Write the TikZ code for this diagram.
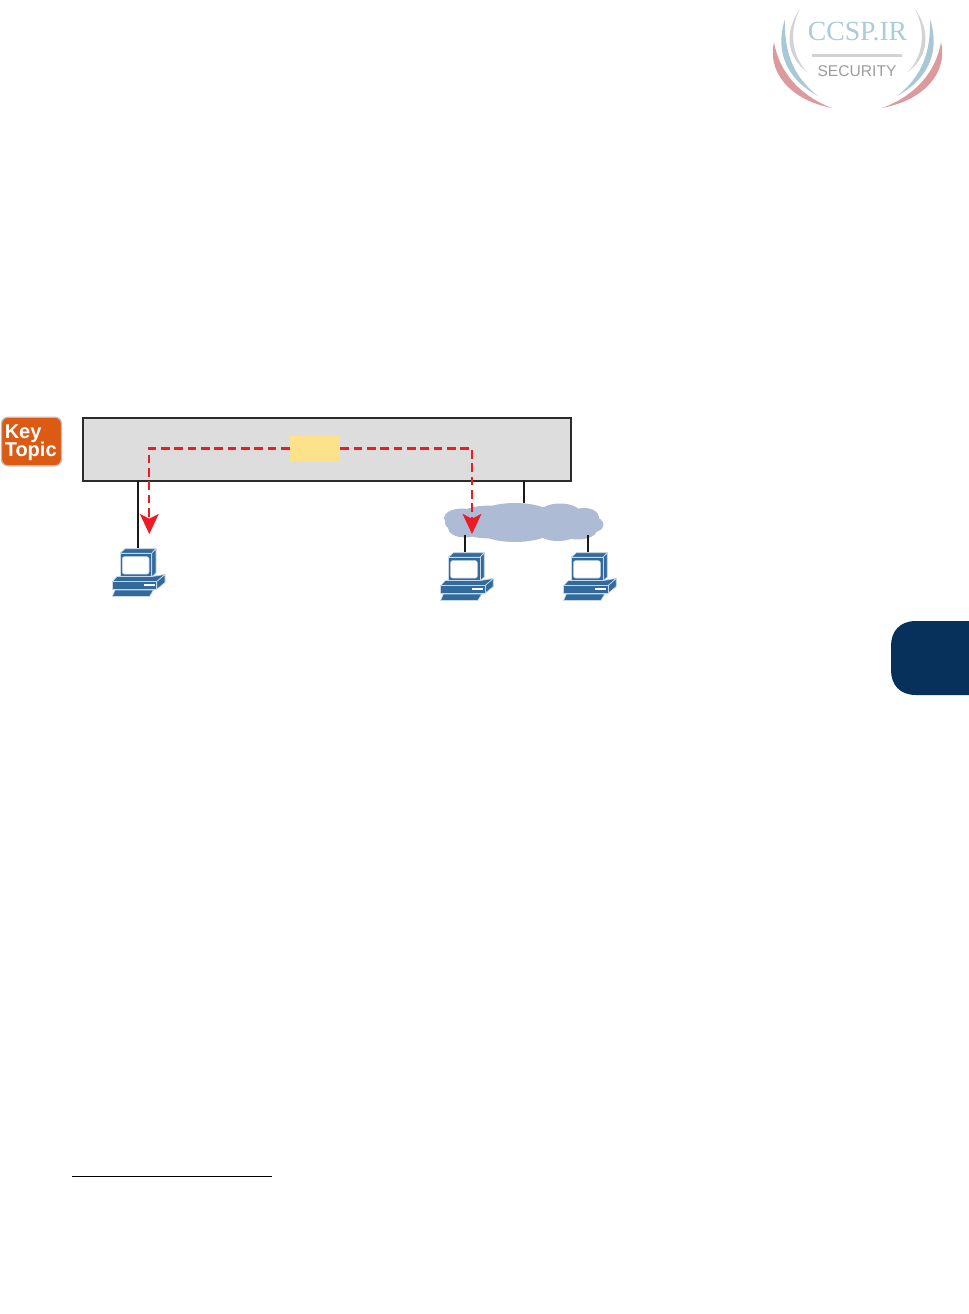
\documentclass[tikz,border=0pt]{standalone}
\usepackage{fontspec}
\setmainfont{Liberation Sans}
\newfontfamily\logoserif{Liberation Serif}
\usetikzlibrary{arrows.meta,calc}
\definecolor{pcblue}{HTML}{336A9E}
\definecolor{pcedge}{HTML}{C9D8E6}
\definecolor{cloudblue}{HTML}{AEBBD5}
\definecolor{redline}{HTML}{ED1C24}
\definecolor{boxgray}{HTML}{DDDDDD}
\definecolor{boxedge}{HTML}{2B2B2B}
\definecolor{yellowbox}{HTML}{FDE28C}
\definecolor{keyorange}{HTML}{DD5A13}
\definecolor{keyedge}{HTML}{BDBDBD}
\definecolor{tabnavy}{HTML}{07305A}
\definecolor{logoblue}{HTML}{A9C8D6}
\definecolor{logored}{HTML}{DD9A9C}
\definecolor{logogray}{HTML}{D2D2D2}
\definecolor{logotext}{HTML}{A9CBDA}
\definecolor{logosec}{HTML}{9C9C9C}
\newcommand{\tightlines}{\lineskiplimit=-20pt\relax}
\tikzset{
  x=0.75pt,y=-0.75pt,
  wire/.style={draw=black!90,line width=1.8pt},
  route/.style={draw=redline,line width=1.6pt,dash pattern=on 6.5pt off 3.5pt,
    -{Stealth[length=15pt,width=14pt,inset=3.5pt,fill=redline]}},
  pcface/.style={fill=pcblue,draw=pcedge,line width=0.5pt,line join=round},
  pics/computer/.style={code={
    \coordinate (-top) at (0,0);
    \path[pcface] (-18,5.3) -- (-13,0.7) -- (18,0.7) -- (13.7,5.3) -- cycle;
    \path[pcface] (13.7,5.3) -- (18,0.7) -- (18,25) -- (13.7,29) -- cycle;
    \path[pcface] (-18,5.3) rectangle (13.7,29);
    \path[fill=white,draw=pcedge,line width=0.4pt,rounded corners=1.5pt] (-15.7,8.7) rectangle (11,26);
    \path[pcface] (-25.7,33.7) -- (-21,28.5) -- (14,28.5) -- (27,26.5) -- (18.7,33.7) -- cycle;
    \path[pcface] (18.7,33.7) -- (27,26.5) -- (27,34.5) -- (18.7,41.3) -- cycle;
    \path[pcface] (-25.7,33.7) rectangle (18.7,41.3);
    \path[fill=white] (6,36) rectangle (17,37.7);
    \path[pcface] (-23,42) -- (15.5,42) -- (11.5,48.5) -- (-25.7,48.5) -- cycle;
  }},
}
\begin{document}
\begin{tikzpicture}
\useasboundingbox (0,0) rectangle (969,1314);
% logo
\fill[logogray] (800,9) .. controls (785,30) and (785,55) .. (807,72) .. controls (791,55) and (789,30) .. (800,9) -- cycle;
\fill[logoblue] (785,19) .. controls (775,50) and (785,78) .. (818,96) .. controls (792,76) and (784,50) .. (785,19) -- cycle;
\fill[logored] (774,42) .. controls (767,72) and (790,100) .. (832,108) .. controls (800,96) and (779,72) .. (774,42) -- cycle;
\fill[logogray] (915,9) .. controls (930,30) and (930,55) .. (908,72) .. controls (924,55) and (926,30) .. (915,9) -- cycle;
\fill[logoblue] (930,19) .. controls (940,50) and (930,78) .. (897,96) .. controls (923,76) and (931,50) .. (930,19) -- cycle;
\fill[logored] (941,42) .. controls (948,72) and (925,100) .. (882,108) .. controls (915,96) and (936,72) .. (941,42) -- cycle;
\node[text=logotext,inner sep=0pt,font=\logoserif\fontsize{20.8pt}{20.8pt}\selectfont] (logoname) at (857.5,32) {CCSP.IR};
\fill[logogray] (812,54) rectangle (902,56.5);
\node[text=logosec,inner sep=0pt,font=\fontsize{11.7pt}{11.7pt}\selectfont] (logosec) at (857,71) {SECURITY};
% tab
\fill[tabnavy] (969,621) -- (916,621) .. controls (900,621) and (891,631) .. (891,646) -- (891,670) .. controls (891,685) and (900,695) .. (916,695) -- (969,695) -- cycle;
% footnote rule
\draw[black,line width=0.6pt] (72,1176) -- (272,1176);
% key topic
\node[fill=keyorange,draw=keyedge,line width=1pt,rounded corners=5pt,minimum width=45pt,minimum height=36.5pt,inner sep=0pt] (key) at (31.5,441.5) {};
\node[text=white,inner sep=0pt,anchor=west,align=left,font=\bfseries\fontsize{15pt}{13.5pt}\selectfont\tightlines] (keytext) at (4.5,443) {Key\\Topic};
% connectors below
\coordinate (swa) at (138,481);
\coordinate (swb) at (524,481);
% cloud
\fill[cloudblue]
 (515,522.5) ellipse (45 and 19.5)
 (490,522) ellipse (38 and 16.5)
 (462,518) ellipse (18 and 9.5)
 (456,523) ellipse (11 and 7)
 (465,528) ellipse (17 and 9.5)
 (560,515) ellipse (22 and 11.5)
 (584,517) ellipse (15 and 9)
 (592,524.5) ellipse (11.5 and 8)
 (578,530) ellipse (19 and 9.5)
 (558,530) ellipse (22 and 11)
 (540,522) ellipse (30 and 15);
\coordinate (cloudbottomL) at (465,535);
\coordinate (cloudbottomR) at (588,535);
\coordinate (cloudtop) at (524,503);
% main box
\node[fill=boxgray,draw=boxedge,line width=1.8pt,minimum width=366pt,minimum height=47.2pt,inner sep=0pt] (device) at (327,449.5) {};
\node[fill=yellowbox,minimum width=37.5pt,minimum height=18.8pt,inner sep=0pt] (proc) at (315,448.5) {};
% computers
\pic (pcA) at (138,548) {computer};
\pic (pcB) at (466.3,552) {computer};
\pic (pcC) at (589.3,552) {computer};
\draw[wire] (swa) -- (pcA-top);
\draw[wire] (swb) -- (cloudtop);
\draw[wire] (cloudbottomL) -- (cloudbottomL |- pcB-top);
\draw[wire] (cloudbottomR) -- (cloudbottomR |- pcC-top);
% routes
\coordinate (tipA) at (149.3,534);
\coordinate (tipB) at (472,534);
\draw[route] (proc.west) -- (tipA |- proc.west) -- (tipA);
\draw[route] (proc.east) -- (tipB |- proc.east) -- (tipB);
\end{tikzpicture}
\end{document}
